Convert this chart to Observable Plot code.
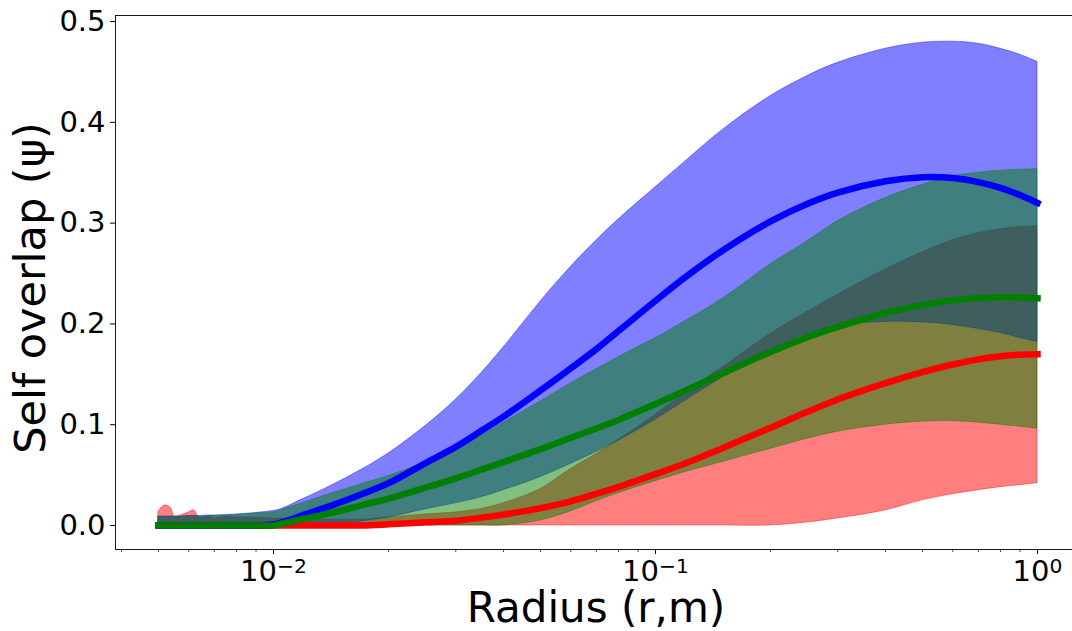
<!DOCTYPE html>
<html><head><meta charset="utf-8">
<script src="https://cdn.jsdelivr.net/npm/d3@7"></script>
<script src="https://cdn.jsdelivr.net/npm/@observablehq/plot@0.6"></script>
<style>body{margin:0;background:#fff} svg{display:block;overflow:hidden}</style>
</head><body><div id="chart"></div>
<script>
const radius = [0.005,0.0052,0.0054,0.0055,0.0057,0.006,0.0062,0.0064,0.0068,0.007,0.0075,0.008,0.009,0.01,0.0105,0.012,0.014,0.017,0.02,0.025,0.03,0.035,0.04,0.05,0.06,0.07,0.08,0.1,0.12,0.15,0.2,0.25,0.3,0.4,0.5,0.6,0.7,0.8,0.9,1.0];

const blueMean  = [0,0,0,0,0,0,0,0,0,0,0,0,0,0.001,0.003,0.0105,0.019,0.031,0.042,0.062,0.078,0.094,0.108,0.134,0.156,0.175,0.193,0.223,0.2467,0.2729,0.3017,0.3192,0.3303,0.3415,0.3455,0.3447,0.3407,0.3349,0.3278,0.320];
const blueLower = [0,0,0,0,0,0,0,0,0,0,0,0,0,0,0,0,0,0.004,0.008,0.016,0.022,0.028,0.035,0.048,0.061,0.073,0.084,0.105,0.124,0.147,0.174,0.190,0.198,0.202,0.2015,0.199,0.195,0.191,0.186,0.182];
const blueUpper = [0.009,0.009,0.009,0.009,0.009,0.0095,0.0095,0.0095,0.010,0.010,0.0105,0.011,0.0125,0.0145,0.0165,0.0265,0.0385,0.0553,0.0715,0.0987,0.1248,0.151,0.1765,0.2221,0.2565,0.2826,0.3035,0.3355,0.3615,0.3925,0.426,0.446,0.459,0.473,0.479,0.480,0.478,0.473,0.467,0.460];

const greenMean  = [0,0,0,0,0,0,0,0,0,0,0,0,0,0,0.0017,0.0067,0.012,0.020,0.0266,0.0376,0.0468,0.0554,0.063,0.0758,0.087,0.0963,0.1047,0.1206,0.1339,0.1509,0.1722,0.1868,0.197,0.211,0.2185,0.2232,0.2255,0.2265,0.2263,0.2255];
const greenLower = [0,0,0,0,0,0,0,0,0,0,0,0,0,0,0,0,0,0,0,0,0,0,0,0.005,0.014,0.024,0.032,0.044,0.053,0.063,0.076,0.086,0.093,0.100,0.103,0.1035,0.102,0.100,0.098,0.096];
const greenUpper = [0.0085,0.0085,0.0085,0.0085,0.0085,0.009,0.009,0.009,0.0095,0.0095,0.010,0.0105,0.012,0.013,0.0155,0.0225,0.031,0.041,0.049,0.063,0.076,0.089,0.102,0.123,0.141,0.155,0.167,0.186,0.203,0.225,0.259,0.282,0.302,0.325,0.338,0.3465,0.350,0.352,0.353,0.3535];

const redMean  = [0,0,0,0,0,0,0,0,0,0,0,0,0,0,0,0,0,0,0.0012,0.0033,0.0048,0.0078,0.0108,0.0172,0.024,0.0315,0.0384,0.051,0.0617,0.077,0.097,0.1128,0.125,0.1412,0.1522,0.1597,0.1648,0.168,0.1695,0.170];
const redLower = [0,0,0,0,0,0,0,0,0,0,0,0,0,0,0,0,0,0,0,0,0,0,0,0,0,0,0,0,0,0,0,0.003,0.007,0.015,0.025,0.031,0.035,0.038,0.040,0.042];
const redUpper = [0.014,0.020,0.017,0.009,0.010,0.013,0.015,0.008,0.009,0.007,0.009,0.008,0.008,0.007,0.007,0.006,0.006,0.006,0.008,0.011,0.013,0.0165,0.022,0.036,0.056,0.071,0.085,0.110,0.132,0.157,0.190,0.212,0.229,0.254,0.271,0.283,0.290,0.294,0.296,0.297];

const xTicks = [0.01, 0.1, 1];
const xTickExponents = ["\u22122", "\u22121", "0"];
const xMinorTicks = [0.004,0.005,0.006,0.007,0.008,0.009,0.02,0.03,0.04,0.05,0.06,0.07,0.08,0.09,0.2,0.3,0.4,0.5,0.6,0.7,0.8,0.9];
const yTicks = [0, 0.1, 0.2, 0.3, 0.4, 0.5];
const yTickLabels = ["0.0", "0.1", "0.2", "0.3", "0.4", "0.5"];
const xLabel = "Radius (r,m)";
const yLabel = "Self overlap (\u03c8)";

// drawing order: red, blue, green (fills), then lines in same order
const series = [
  {name: "red", color: "#ff0000", mean: redMean, lower: redLower, upper: redUpper},
  {name: "blue", color: "#0000ff", mean: blueMean, lower: blueLower, upper: blueUpper},
  {name: "green", color: "#008000", mean: greenMean, lower: greenLower, upper: greenUpper}
];
const tables = series.map(s => radius.map((r, i) => ({r, m: s.mean[i], lo: s.lower[i], hi: s.upper[i]})));

const xDomain = [Math.pow(10, -2.4136), Math.pow(10, 0.0916)];
const yDomain = [-0.0238, 0.506];
const FONT = "DejaVu Sans, sans-serif";
const CURVE = "catmull-rom";

const marks = [];
series.forEach((s, k) => {
  marks.push(Plot.areaY(tables[k], {x: "r", y1: "lo", y2: "hi", fill: s.color, fillOpacity: 0.5,
    stroke: s.color, strokeOpacity: 0.5, strokeWidth: 0.8, curve: CURVE}));
});
series.forEach((s, k) => {
  marks.push(Plot.line(tables[k], {x: "r", y: "m", stroke: s.color, strokeWidth: 6.5,
    strokeLinecap: "square", curve: CURVE}));
});
marks.push(
  Plot.ruleX([xDomain[0]], {stroke: "#000", strokeWidth: 0.9}),
  Plot.ruleY([yDomain[0], yDomain[1]], {stroke: "#000", strokeWidth: 0.9}),
  Plot.axisY(yTicks, {tickSize: 5, tickPadding: 5, fontSize: 29, fontFamily: FONT,
    tickFormat: d => yTickLabels[yTicks.indexOf(d)], label: null}),
  Plot.axisX(xMinorTicks, {tickSize: 3, strokeWidth: 0.7, tickFormat: () => "", label: null}),
  Plot.axisX(xTicks, {tickSize: 5, tickPadding: 6, fontSize: 29, fontFamily: FONT,
    tickFormat: d => "10^" + xTickExponents[xTicks.indexOf(d)], label: null})
);

const chart = Plot.plot({
  width: 1072, height: 631,
  marginLeft: 115, marginRight: 0, marginTop: 15, marginBottom: 82,
  style: {fontFamily: FONT, background: "#fff", color: "#000", overflow: "hidden"},
  x: {type: "log", domain: xDomain, label: null},
  y: {domain: yDomain, label: null},
  marks
});

const svg = d3.select(chart);
// exponents as superscripts
svg.selectAll("text").each(function() {
  const t = this.textContent;
  if (/^10\^/.test(t)) {
    const exp = t.slice(3);
    const sel = d3.select(this);
    sel.text(null);
    sel.append("tspan").text("10");
    sel.append("tspan").attr("dy", "-0.42em").attr("font-size", "0.7em").text(exp);
  }
});
// axis titles
svg.append("text").text(xLabel)
  .attr("x", 596).attr("y", 622)
  .attr("text-anchor", "middle").attr("font-size", 42).attr("font-family", FONT).attr("fill", "#000");
svg.append("text").text(yLabel)
  .attr("transform", "translate(45,288) rotate(-90)")
  .attr("text-anchor", "middle").attr("font-size", 43).attr("font-family", FONT).attr("fill", "#000");

document.getElementById("chart").appendChild(chart);
</script>
</body></html>
